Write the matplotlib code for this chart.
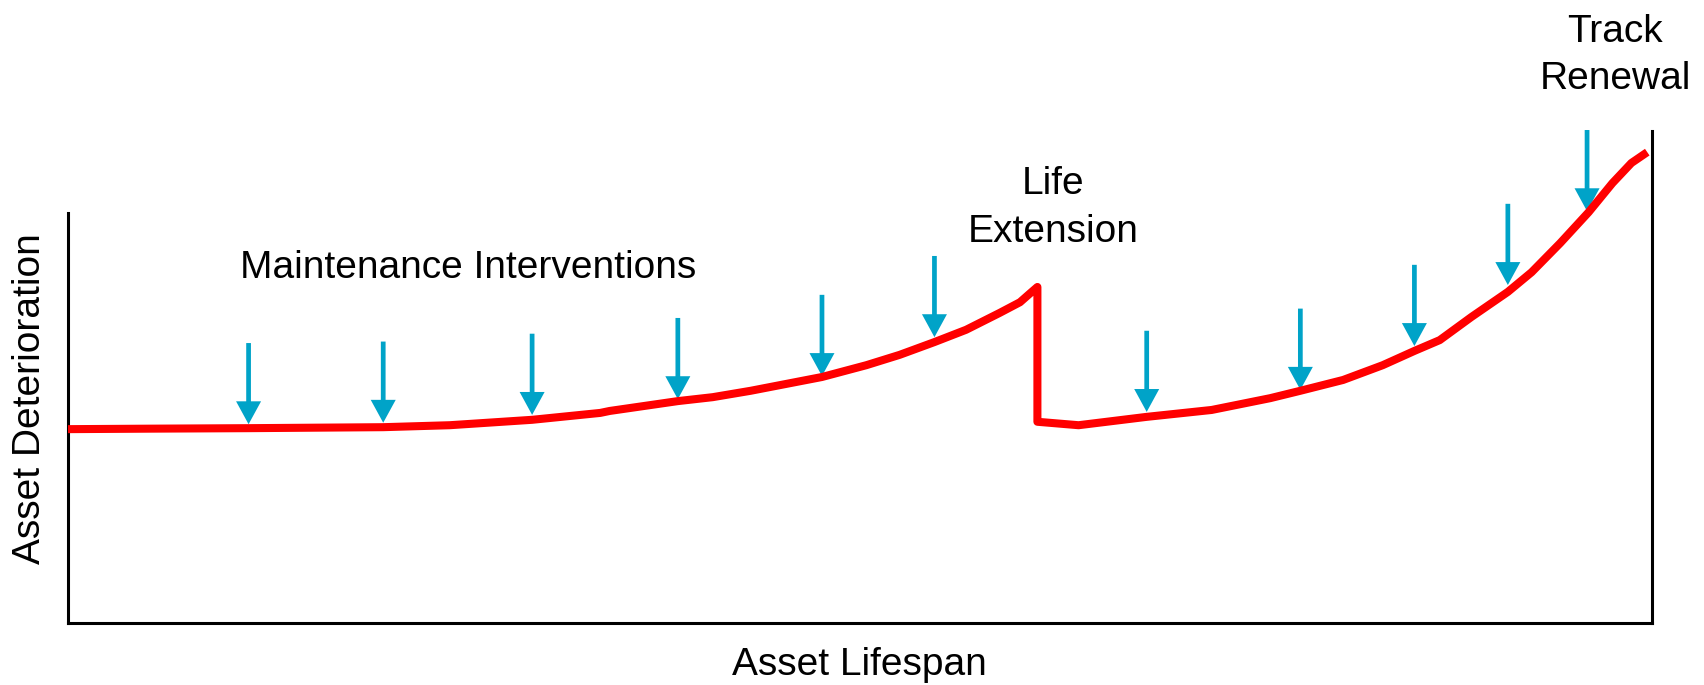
import matplotlib.pyplot as plt

plt.rcParams["font.family"] = ["Liberation Sans", "DejaVu Sans"]

# deterioration curve (lifespan %, deterioration %)
lifespan = [0.0, 5.2, 11.4, 19.9, 24.1, 29.3, 33.6, 34.2, 38.5, 40.7, 43.1, 47.6,
            50.4, 52.5, 54.7, 56.7, 58.8, 60.1, 60.7, 61.2,
            61.2, 63.8, 68.1, 72.2, 75.9, 77.8, 80.5, 83.0, 85.0, 86.6, 88.6,
            90.9, 92.4, 94.2, 96.0, 97.5, 98.7, 99.7]
deterioration = [39.4, 39.5, 39.6, 39.8, 40.2, 41.3, 42.7, 43.1, 45.1, 45.9, 47.2, 50.0,
                 52.4, 54.5, 57.1, 59.6, 63.0, 65.2, 66.9, 68.3,
                 40.9, 40.2, 41.9, 43.3, 45.7, 47.2, 49.4, 52.4, 55.3, 57.5, 62.2,
                 67.3, 71.3, 77.2, 83.5, 89.4, 93.5, 95.7]

# maintenance interventions: where they happen and where the arrow points
intervention_at = [11.4, 19.9, 29.3, 38.5, 47.6, 54.7, 68.1, 77.8, 85.0, 90.9, 95.9]
intervention_tip = [40.4, 40.7, 42.3, 45.5, 50.2, 58.1, 42.9, 47.4, 56.3, 68.7, 83.7]

x_label = "Asset Lifespan"
y_label = "Asset Deterioration"
maint_label = "Maintenance Interventions"
life_ext_label = ["Life", "Extension"]
renewal_label = ["Track", "Renewal"]

W, H = 1704, 685
RED = "#ff0000"
BLUE = "#00a3c8"
FS = 28
ARROW_LEN = 16.5


def fx(px):
    return px / W


def fy(py):
    return 1 - py / H


fig = plt.figure(figsize=(W / 100, H / 100), dpi=100)
ax = fig.add_axes([fx(68), fy(623), fx(1652) - fx(68), fy(131) - fy(623)])
ax.set_xlim(0, 100)
ax.set_ylim(0, 100)

for t, tip in zip(intervention_at, intervention_tip):
    ax.annotate(
        "",
        xy=(t, tip),
        xytext=(t, tip + ARROW_LEN),
        arrowprops=dict(
            arrowstyle="simple,head_length=16.5,head_width=18,tail_width=3.4",
            mutation_scale=1,
            color=BLUE,
            lw=0,
            shrinkA=0,
            shrinkB=0,
        ),
        annotation_clip=False,
        zorder=3,
    )

ax.plot(lifespan, deterioration, color=RED, lw=5.8, solid_joinstyle="round",
        solid_capstyle="butt", clip_on=False, zorder=4)

ax.spines["top"].set_visible(False)
for side in ("left", "right", "bottom"):
    ax.spines[side].set_linewidth(2.2)
    ax.spines[side].set_color("black")
ax.spines["left"].set_bounds(0, 83.3)
ax.set_xticks([])
ax.set_yticks([])

fig.text(fx(468), fy(278), maint_label, fontsize=FS, ha="center", va="baseline")
fig.text(fx(859), fy(675), x_label, fontsize=FS, ha="center", va="baseline")
fig.text(fx(40), fy(399), y_label, fontsize=FS, ha="center", va="baseline",
         rotation=90, rotation_mode="anchor")
for line, base in zip(life_ext_label, (194, 242)):
    fig.text(fx(1053), fy(base), line, fontsize=FS, ha="center", va="baseline")
for line, base in zip(renewal_label, (42, 89)):
    fig.text(fx(1615), fy(base), line, fontsize=FS, ha="center", va="baseline")

fig.savefig("out.png", dpi=100)
